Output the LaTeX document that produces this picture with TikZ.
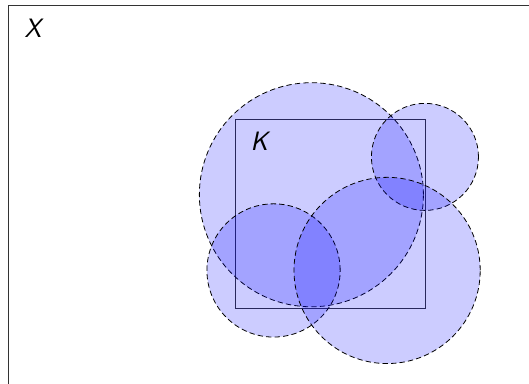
\documentclass[tikz,border=0pt]{standalone}
\begin{document}
\begin{tikzpicture}[
  cover/.style={draw=black, line width=0.6pt, dash pattern=on 4pt off 2.4pt, fill=blue, fill opacity=0.2},
  lbl/.style={font=\fontsize{20}{23}\selectfont\sffamily\itshape, inner sep=0pt}
]
\useasboundingbox (-6.227,-1.974) rectangle (7.749,8.145);
\clip (-6.227,-1.974) rectangle (7.749,8.145);
% ambient space X
\draw[line width=0.7pt, draw=black!80] (-6,-3) rectangle (9,8);
\node[lbl] (X) at (-5.355,7.387) {X};
% compact set K
\draw[line width=0.6pt, draw=black!80] (0,0) rectangle (5,5);
% open cover
\path[cover] (2,3) circle (2.96);
\path[cover] (5,4) circle (1.414);
\path[cover] (1,1) circle (1.76);
\path[cover] (4,1) circle (2.46);
\node[lbl] (K) at (0.624,4.40) {K};
\end{tikzpicture}
\end{document}
